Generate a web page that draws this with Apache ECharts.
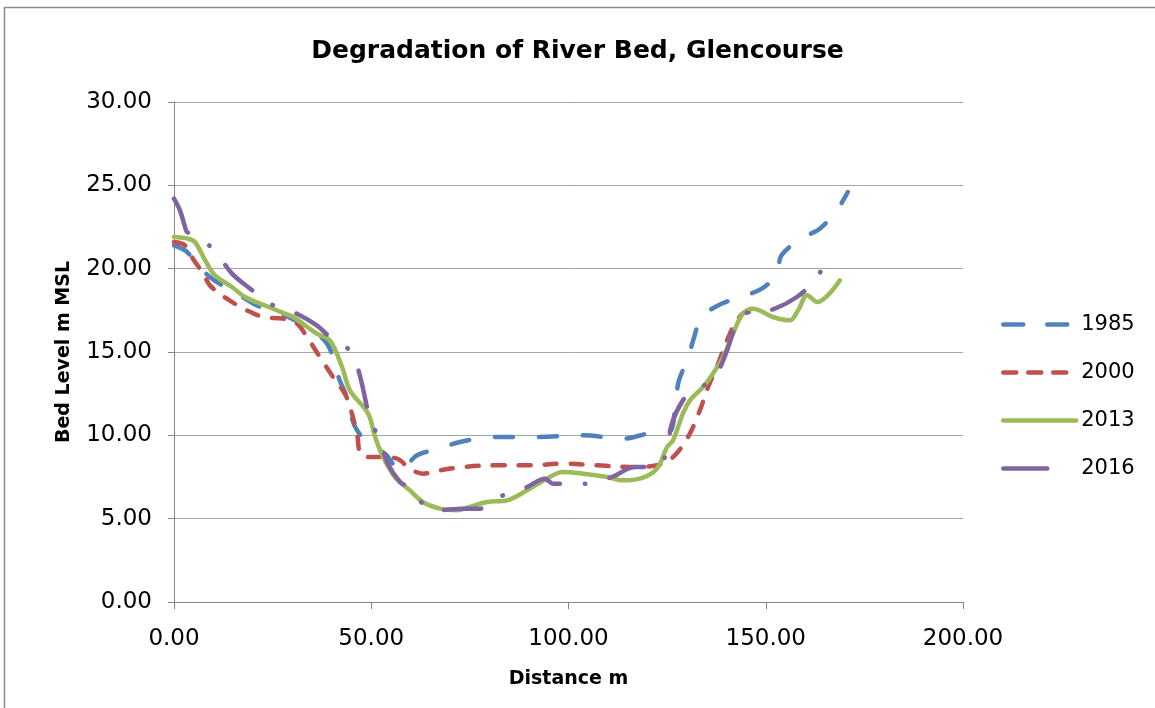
<!DOCTYPE html>
<html>
<head>
<meta charset="utf-8">
<script src="https://cdn.jsdelivr.net/npm/echarts@6/dist/echarts.min.js"></script>
<style>
html,body{margin:0;padding:0;background:#fff;}
#c{width:1155px;height:708px;}
</style>
</head>
<body>
<div id="c"></div>
<script>
const titleText = 'Degradation of River Bed, Glencourse';
const seriesNames = ['1985', '2000', '2013', '2016'];
const xTicks = [0, 50, 100, 150, 200];
const yTicks = [0, 5, 10, 15, 20, 25, 30];

const dist1985 = [0, 2.8, 4.5, 8.6, 12.2, 18, 21, 28, 33, 38.8, 42, 43.8, 45.1, 46.4, 49.7, 53.5, 57.3, 61.6, 67.4, 72.5, 80.9, 92, 103.7, 113.8, 120, 124, 126, 127.2, 128, 130.3, 131.6, 133.8, 138, 143.5, 149, 152.8, 154, 159, 163.7, 168, 170.8];
const level1985 = [21.4, 21.1, 20.7, 19.6, 19.0, 18.2, 17.8, 17.2, 16.6, 15.5, 13.3, 12.3, 11.0, 10.3, 9.4, 8.9, 7.9, 8.8, 9.2, 9.6, 9.9, 9.9, 10.0, 9.8, 10.1, 10.2, 10.3, 12.1, 13.3, 14.6, 15.7, 17.1, 17.8, 18.3, 18.8, 19.7, 20.8, 21.8, 22.4, 23.5, 24.6];

const dist2000 = [0, 2.8, 4.8, 7.4, 9.1, 13.4, 18.5, 22.6, 27.6, 31.2, 33.7, 37, 40.3, 43.3, 44.6, 46.4, 47.2, 48.9, 52.2, 56.5, 59.8, 63.1, 67.4, 73.3, 81.9, 90.2, 98.6, 107.2, 115.6, 122.4, 126.5, 130.3, 133.3, 135.4, 137.9, 140.2, 142.7, 145.2, 148.5];
const level2000 = [21.6, 21.4, 20.6, 19.7, 19.0, 18.2, 17.5, 17.1, 17.0, 16.7, 15.9, 14.7, 13.5, 12.5, 11.7, 10.1, 8.9, 8.7, 8.7, 8.6, 8.0, 7.7, 7.9, 8.1, 8.2, 8.2, 8.3, 8.2, 8.1, 8.2, 8.7, 9.9, 11.5, 12.9, 14.3, 15.7, 16.9, 17.4, 17.3];

const dist2013 = [0, 3.5, 5.3, 7.9, 10.4, 14.7, 18, 23, 28.1, 30.2, 36.2, 39.5, 42.6, 44.6, 49.2, 51, 53, 56, 59.8, 63.1, 67.4, 71.7, 75, 79.3, 84.4, 89.5, 94.5, 98.6, 103.7, 109.8, 113.8, 118.1, 122.4, 125, 126.5, 129, 130.8, 134.1, 136.6, 139.2, 141.7, 144.2, 146.8, 151.8, 156.1, 158.2, 160.5, 163, 168.8];
const level2013 = [21.9, 21.8, 21.6, 20.5, 19.6, 18.9, 18.3, 17.8, 17.3, 17.1, 16.1, 15.7, 14.1, 12.7, 11.3, 9.9, 8.7, 7.5, 6.7, 6.0, 5.6, 5.5, 5.7, 6.0, 6.1, 6.7, 7.4, 7.8, 7.7, 7.5, 7.3, 7.4, 8.0, 9.3, 9.7, 11.3, 12.1, 12.9, 13.7, 14.7, 16.1, 17.3, 17.6, 17.1, 16.9, 17.5, 18.4, 18.0, 19.3];

const dist2016 = [0, 1.5, 2.8, 3.3, 7.4, 11.2, 14.7, 19.3, 24.3, 30.2, 36.2, 39.5, 44.9, 47.1, 49.7, 52.2, 54.2, 57.3, 59.3, 61.1, 66.7, 73, 77.6, 80.9, 83.4, 89.5, 94, 96.1, 104.9, 111, 116.9, 122.4, 124, 125, 126.2, 129, 131.6, 135.1, 137.6, 140.2, 142.2, 144.2, 147.8, 152.3, 157.9, 162.5, 164.5, 167];
const level2016 = [24.2, 23.5, 22.5, 22.2, 21.7, 20.8, 19.7, 18.8, 17.9, 17.4, 16.6, 15.9, 15.0, 13.6, 11.0, 9.7, 8.3, 7.2, 6.9, 6.3, 5.5, 5.6, 5.6, 6.1, 6.4, 6.9, 7.4, 7.1, 7.1, 7.5, 8.1, 8.1, 8.5, 9.1, 10.7, 12.1, 12.7, 13.1, 13.7, 15.1, 16.5, 17.3, 17.4, 17.6, 18.3, 19.3, 20.0, 20.3];

const pairs = (xs, ys) => xs.map((x, i) => [x, ys[i]]);
const colors = ['#4F81BD', '#C0504D', '#9BBB59', '#8064A2'];
const dashes = [[18, 26], [12, 14], 'solid', [37, 25, 0.5, 25]];
const legendDashes = [[20, 24], [13, 12], 'solid', [44, 60]];
const allData = [pairs(dist1985, level1985), pairs(dist2000, level2000), pairs(dist2013, level2013), pairs(dist2016, level2016)];

const FONT = 'DejaVu Sans';
const chart = echarts.init(document.getElementById('c'), null, {renderer: 'canvas'});
chart.setOption({
  animation: false,
  backgroundColor: '#ffffff',
  title: {
    text: titleText, left: 'center', top: 34,
    textStyle: {fontFamily: FONT, fontSize: 25, fontWeight: 'bold', color: '#000'}
  },
  graphic: [{
    type: 'rect', silent: true, z: -1,
    shape: {x: 4.5, y: 7.5, width: 1200, height: 800},
    style: {fill: 'none', stroke: '#8c8c8c', lineWidth: 1.5}
  }],
  grid: {left: 174, right: 192, top: 102, bottom: 106, containLabel: false},
  legend: {
    orient: 'vertical', left: 996, top: 309,
    itemWidth: 73, itemHeight: 14, itemGap: 27,
    itemStyle: {opacity: 0},
    data: seriesNames.map((n, i) => ({
      name: n,
      lineStyle: {color: colors[i], width: 4.5, type: legendDashes[i], cap: 'round'}
    })),
    textStyle: {fontFamily: FONT, fontSize: 21, color: '#000'}
  },
  xAxis: {
    type: 'value', min: xTicks[0], max: xTicks[xTicks.length - 1], interval: 50,
    name: 'Distance m', nameLocation: 'middle', nameGap: 68,
    nameTextStyle: {fontFamily: FONT, fontSize: 19, fontWeight: 'bold', color: '#000'},
    axisLine: {show: true, lineStyle: {color: '#868686', width: 1}},
    axisTick: {show: true, length: 7, lineStyle: {color: '#868686'}},
    splitLine: {show: false},
    axisLabel: {margin: 26, fontFamily: FONT, fontSize: 23, color: '#000', formatter: v => v.toFixed(2)}
  },
  yAxis: {
    type: 'value', min: yTicks[0], max: yTicks[yTicks.length - 1], interval: 5,
    name: 'Bed Level m MSL', nameLocation: 'middle', nameGap: 100, nameRotate: 90,
    nameTextStyle: {fontFamily: FONT, fontSize: 19, fontWeight: 'bold', color: '#000'},
    axisLine: {show: true, lineStyle: {color: '#868686', width: 1}},
    axisTick: {show: true, length: 6, lineStyle: {color: '#868686'}},
    splitLine: {show: true, lineStyle: {color: '#a6a6a6', width: 1}},
    axisLabel: {margin: 22, fontFamily: FONT, fontSize: 23, color: '#000', formatter: v => v.toFixed(2)}
  },
  series: seriesNames.map((name, i) => ({
    name: name, type: 'line', data: allData[i],
    smooth: 0.35, symbol: 'none', showSymbol: false,
    color: colors[i],
    lineStyle: {color: colors[i], width: 4.5, type: dashes[i], cap: 'round', join: 'round'}
  }))
});
</script>
</body>
</html>
